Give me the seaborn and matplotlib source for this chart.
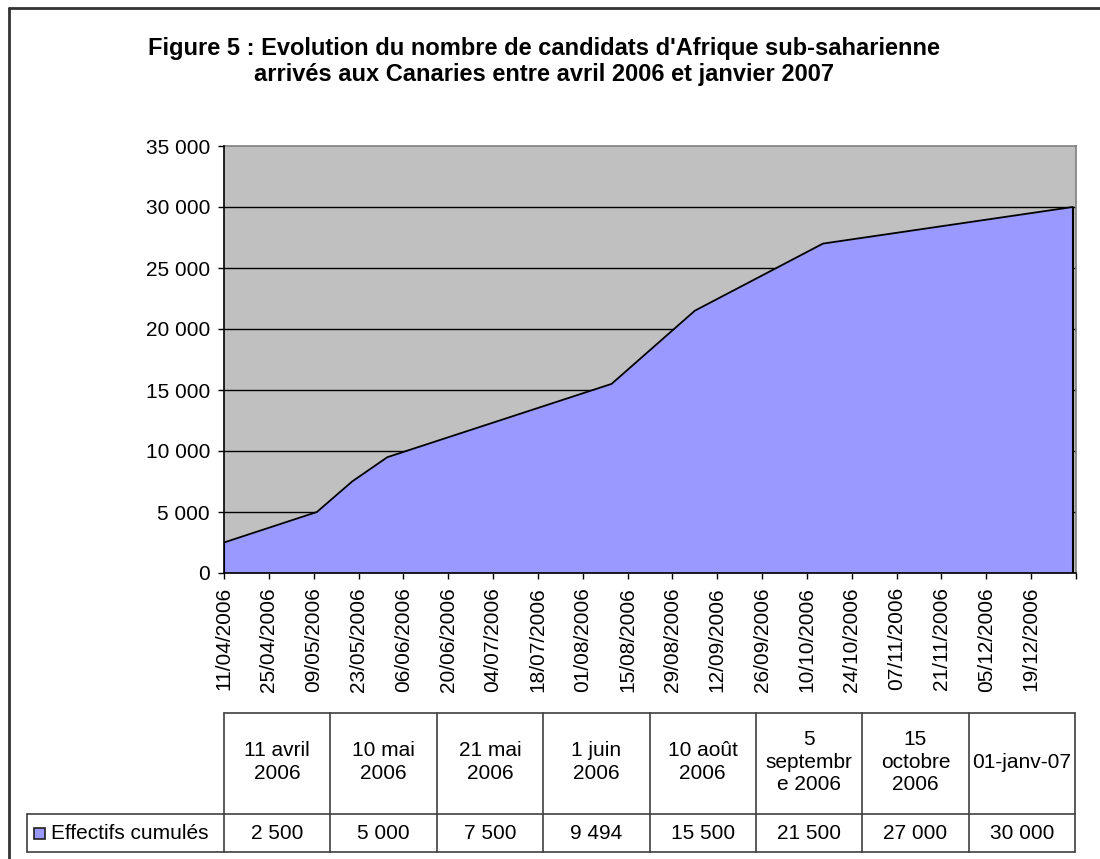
import matplotlib
matplotlib.use("Agg")
import matplotlib.pyplot as plt
import matplotlib.ticker as mticker
import seaborn as sns
import pandas as pd

# ---- data ----
dates = ["11/04/2006", "10/05/2006", "21/05/2006", "01/06/2006",
         "10/08/2006", "05/09/2006", "15/10/2006", "01/01/2007"]
values = [2500, 5000, 7500, 9494, 15500, 21500, 27000, 30000]
table_headers = ["11 avril\n2006", "10 mai\n2006", "21 mai\n2006", "1 juin\n2006",
                 "10 août\n2006", "5\nseptembr\ne 2006", "15\noctobre\n2006", "01-janv-07"]
series_name = "Effectifs cumulés"
title_lines = ["Figure 5 : Evolution du nombre de candidats d'Afrique sub-saharienne",
               "arrivés aux Canaries entre avril 2006 et janvier 2007"]
yticks = [0, 5000, 10000, 15000, 20000, 25000, 30000, 35000]

sns.set_theme(style="white")
plt.rcParams['font.family'] = ['Liberation Sans', 'DejaVu Sans']

W, H = 1100, 859
fig = plt.figure(figsize=(W / 100, H / 100), dpi=100)
fig.patch.set_facecolor("white")

df = pd.DataFrame({"date": pd.to_datetime(dates, dayfirst=True), "value": values})

L, R, T, B = 224, 1076, 146, 573
ax = fig.add_axes([L / W, 1 - B / H, (R - L) / W, (B - T) / H])
ax.set_facecolor("#C0C0C0")

fill_col = "#9999FF"
ax.fill_between(df["date"], df["value"], 0, color=fill_col, linewidth=0, zorder=2)
sns.lineplot(data=df, x="date", y="value", color="black", linewidth=1.3, ax=ax, zorder=3)
ax.vlines([df["date"].iloc[0], df["date"].iloc[-1]], 0,
          [df["value"].iloc[0], df["value"].iloc[-1]], color="black", linewidth=1.5, zorder=3)

for yv in yticks[1:-1]:
    ax.axhline(yv, color="black", linewidth=1, zorder=1)

x0 = pd.Timestamp("2006-04-11")
x1 = pd.Timestamp("2007-01-02")
ax.set_xlim(x0, x1)
ax.set_ylim(0, 35000)
ax.set_yticks(yticks)
ax.yaxis.set_major_formatter(mticker.FuncFormatter(lambda v, p: f"{int(v):,}".replace(",", " ")))

xt = pd.date_range(x0, periods=20, freq="14D")
ax.set_xticks(xt)
ax.set_xticklabels([d.strftime("%d/%m/%Y") for d in xt[:-1]] + [""], rotation=90)

ax.set_xlabel("")
ax.set_ylabel("")
for s in ["top", "right"]:
    ax.spines[s].set_color("#808080")
    ax.spines[s].set_linewidth(1.2)
for s in ["left", "bottom"]:
    ax.spines[s].set_color("black")
    ax.spines[s].set_linewidth(1.2)
    ax.spines[s].set_zorder(4)
ax.tick_params(axis="both", direction="out", length=4, width=1, color="black",
               labelsize=15, pad=6, labelcolor="black")
ax.tick_params(axis="both", bottom=True, left=True)

# ---- title ----
fig.text(544 / W, 1 - 48 / H, title_lines[0], ha="center", va="center",
         fontsize=17, fontweight="bold", color="black")
fig.text(544 / W, 1 - 75 / H, title_lines[1], ha="center", va="center",
         fontsize=17, fontweight="bold", color="black")

# ---- overlay (frame and data table) in pixel coords ----
ov = fig.add_axes([0, 0, 1, 1], facecolor="none")
ov.set_xlim(0, W)
ov.set_ylim(H, 0)
ov.axis("off")

# outer chart frame (top and left edges visible)
ov.plot([9, W], [8, 8], color="#333333", linewidth=2)
ov.plot([9, 9], [8, H], color="#333333", linewidth=2)

tl, tr = 224, 1075
ncol = len(values)
cw = (tr - tl) / ncol
y_top, y_mid, y_bot = 712.5, 813.5, 852
leg_l = 27
lc = "#404040"
lw = 1.2
ov.plot([tl, tr], [y_top, y_top], color=lc, linewidth=lw)
ov.plot([leg_l, tr], [y_mid, y_mid], color=lc, linewidth=lw)
ov.plot([leg_l, tr], [y_bot, y_bot], color=lc, linewidth=lw)
ov.plot([leg_l, leg_l], [y_mid, y_bot], color=lc, linewidth=lw)
for i in range(ncol + 1):
    xx = tl + i * cw
    ov.plot([xx, xx], [y_top, y_bot], color=lc, linewidth=lw)

for i, (hdr, v) in enumerate(zip(table_headers, values)):
    cx = tl + (i + 0.5) * cw
    ov.text(cx, (y_top + y_mid) / 2 - 1, hdr, ha="center", va="center", fontsize=15,
            linespacing=1.22, color="black")
    ov.text(cx, (y_mid + y_bot) / 2 + 1, f"{v:,}".replace(",", " "), ha="center",
            va="center", fontsize=15, color="black")

# legend key
ov.add_patch(plt.Rectangle((34, 828), 11, 11, facecolor=fill_col, edgecolor="#202020",
                           linewidth=1.2))
ov.text(51, (y_mid + y_bot) / 2 + 1, series_name, ha="left", va="center",
        fontsize=15, color="black")

fig.savefig("out.png", dpi=100, facecolor="white")
